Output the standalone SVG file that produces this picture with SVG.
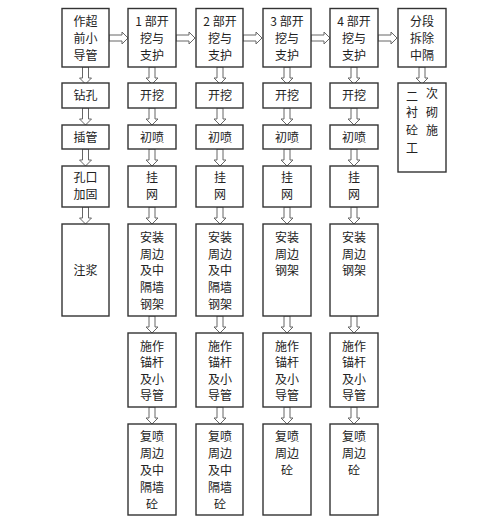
<svg xmlns="http://www.w3.org/2000/svg" width="503" height="518" viewBox="0 0 503 518">
<style>
.box{fill:#fff;stroke:#333;stroke-width:1.4}
.arr{fill:#fff;stroke:#666;stroke-width:1}
text{font-family:"Noto Sans CJK SC","Noto Sans CJK JP",sans-serif;font-size:12px;fill:#222;text-anchor:middle}
</style>
<defs>
<path id="va" class="arr" d="M-3,0 V11 H-6 L0,17 L6,11 H3 V0 Z"/>
<path id="ha" class="arr" d="M0,-3 H13 V-6 L19,0 L13,6 V3 H0 Z"/>
</defs>
<rect width="503" height="518" fill="#fff"/>
<g id="connectors">
<use href="#ha" x="109" y="38"/>
<use href="#ha" x="176" y="38"/>
<use href="#ha" x="243" y="38"/>
<use href="#ha" x="311" y="38"/>
<use href="#ha" x="378" y="38"/>
<use href="#va" x="85.5" y="67"/>
<use href="#va" x="85.5" y="108"/>
<use href="#va" x="85.5" y="149"/>
<use href="#va" x="85.5" y="207"/>
<use href="#va" x="152" y="67"/>
<use href="#va" x="152" y="108"/>
<use href="#va" x="152" y="149"/>
<use href="#va" x="152" y="207"/>
<use href="#va" x="152" y="316"/>
<use href="#va" x="152" y="407"/>
<use href="#va" x="220" y="67"/>
<use href="#va" x="220" y="108"/>
<use href="#va" x="220" y="149"/>
<use href="#va" x="220" y="207"/>
<use href="#va" x="220" y="316"/>
<use href="#va" x="220" y="407"/>
<use href="#va" x="287" y="67"/>
<use href="#va" x="287" y="108"/>
<use href="#va" x="287" y="149"/>
<use href="#va" x="287" y="207"/>
<use href="#va" x="287" y="316"/>
<use href="#va" x="287" y="407"/>
<use href="#va" x="354" y="67"/>
<use href="#va" x="354" y="108"/>
<use href="#va" x="354" y="149"/>
<use href="#va" x="354" y="207"/>
<use href="#va" x="354" y="316"/>
<use href="#va" x="354" y="407"/>
<use href="#va" x="422" y="67"/>
</g>
<g id="c1r1"><rect class="box" x="62" y="8.5" width="47" height="58.5"/><text x="85.5" y="26">作超</text><text x="85.5" y="43">前小</text><text x="85.5" y="60">导管</text></g>
<g id="c1r2"><rect class="box" x="62" y="83" width="47" height="25"/><text x="85.5" y="100">钻孔</text></g>
<g id="c1r3"><rect class="box" x="62" y="125" width="47" height="24"/><text x="85.5" y="142">插管</text></g>
<g id="c1r4"><rect class="box" x="62" y="166" width="47" height="41"/><text x="85.5" y="182">孔口</text><text x="85.5" y="199">加固</text></g>
<g id="c1r5"><rect class="box" x="62" y="224" width="47" height="92"/><text x="85.5" y="275">注浆</text></g>
<g id="c2r1"><rect class="box" x="128" y="8.5" width="48" height="58.5"/><text x="152" y="26">1 部开</text><text x="152" y="43">挖与</text><text x="152" y="60">支护</text></g>
<g id="c2r2"><rect class="box" x="128" y="83" width="48" height="25"/><text x="152" y="100">开挖</text></g>
<g id="c2r3"><rect class="box" x="128" y="125" width="48" height="24"/><text x="152" y="142">初喷</text></g>
<g id="c2r4"><rect class="box" x="128" y="166" width="48" height="41"/><text x="152" y="182">挂</text><text x="152" y="199">网</text></g>
<g id="c2r5"><rect class="box" x="128" y="224" width="48" height="92"/><text x="152" y="242">安装</text><text x="152" y="259">周边</text><text x="152" y="275">及中</text><text x="152" y="292">隔墙</text><text x="152" y="309">钢架</text></g>
<g id="c2r6"><rect class="box" x="128" y="333" width="48" height="74"/><text x="152" y="351">施作</text><text x="152" y="367">锚杆</text><text x="152" y="384">及小</text><text x="152" y="400">导管</text></g>
<g id="c2r7"><rect class="box" x="128" y="424" width="48" height="91"/><text x="152" y="441">复喷</text><text x="152" y="458">周边</text><text x="152" y="475">及中</text><text x="152" y="492">隔墙</text><text x="152" y="509">砼</text></g>
<g id="c3r1"><rect class="box" x="196" y="8.5" width="47" height="58.5"/><text x="220" y="26">2 部开</text><text x="220" y="43">挖与</text><text x="220" y="60">支护</text></g>
<g id="c3r2"><rect class="box" x="196" y="83" width="47" height="25"/><text x="220" y="100">开挖</text></g>
<g id="c3r3"><rect class="box" x="196" y="125" width="47" height="24"/><text x="220" y="142">初喷</text></g>
<g id="c3r4"><rect class="box" x="196" y="166" width="47" height="41"/><text x="220" y="182">挂</text><text x="220" y="199">网</text></g>
<g id="c3r5"><rect class="box" x="196" y="224" width="47" height="92"/><text x="220" y="242">安装</text><text x="220" y="259">周边</text><text x="220" y="275">及中</text><text x="220" y="292">隔墙</text><text x="220" y="309">钢架</text></g>
<g id="c3r6"><rect class="box" x="196" y="333" width="47" height="74"/><text x="220" y="351">施作</text><text x="220" y="367">锚杆</text><text x="220" y="384">及小</text><text x="220" y="400">导管</text></g>
<g id="c3r7"><rect class="box" x="196" y="424" width="47" height="91"/><text x="220" y="441">复喷</text><text x="220" y="458">周边</text><text x="220" y="475">及中</text><text x="220" y="492">隔墙</text><text x="220" y="509">砼</text></g>
<g id="c4r1"><rect class="box" x="263" y="8.5" width="48" height="58.5"/><text x="287" y="26">3 部开</text><text x="287" y="43">挖与</text><text x="287" y="60">支护</text></g>
<g id="c4r2"><rect class="box" x="263" y="83" width="48" height="25"/><text x="287" y="100">开挖</text></g>
<g id="c4r3"><rect class="box" x="263" y="125" width="48" height="24"/><text x="287" y="142">初喷</text></g>
<g id="c4r4"><rect class="box" x="263" y="166" width="48" height="41"/><text x="287" y="182">挂</text><text x="287" y="199">网</text></g>
<g id="c4r5"><rect class="box" x="263" y="224" width="48" height="92"/><text x="287" y="242">安装</text><text x="287" y="259">周边</text><text x="287" y="275">钢架</text></g>
<g id="c4r6"><rect class="box" x="263" y="333" width="48" height="74"/><text x="287" y="351">施作</text><text x="287" y="367">锚杆</text><text x="287" y="384">及小</text><text x="287" y="400">导管</text></g>
<g id="c4r7"><rect class="box" x="263" y="424" width="48" height="91"/><text x="287" y="441">复喷</text><text x="287" y="458">周边</text><text x="287" y="475">砼</text></g>
<g id="c5r1"><rect class="box" x="330" y="8.5" width="48" height="58.5"/><text x="354" y="26">4 部开</text><text x="354" y="43">挖与</text><text x="354" y="60">支护</text></g>
<g id="c5r2"><rect class="box" x="330" y="83" width="48" height="25"/><text x="354" y="100">开挖</text></g>
<g id="c5r3"><rect class="box" x="330" y="125" width="48" height="24"/><text x="354" y="142">初喷</text></g>
<g id="c5r4"><rect class="box" x="330" y="166" width="48" height="41"/><text x="354" y="182">挂</text><text x="354" y="199">网</text></g>
<g id="c5r5"><rect class="box" x="330" y="224" width="48" height="92"/><text x="354" y="242">安装</text><text x="354" y="259">周边</text><text x="354" y="275">钢架</text></g>
<g id="c5r6"><rect class="box" x="330" y="333" width="48" height="74"/><text x="354" y="351">施作</text><text x="354" y="367">锚杆</text><text x="354" y="384">及小</text><text x="354" y="400">导管</text></g>
<g id="c5r7"><rect class="box" x="330" y="424" width="48" height="91"/><text x="354" y="441">复喷</text><text x="354" y="458">周边</text><text x="354" y="475">砼</text></g>
<g id="c6r1"><rect class="box" x="398" y="8.5" width="48" height="58.5"/><text x="422" y="26">分段</text><text x="422" y="43">拆除</text><text x="422" y="60">中隔</text></g>
<g id="c6r2"><rect class="box" x="398" y="83" width="48" height="89"/><text x="412" y="101">二</text><text x="432" y="98">次</text><text x="412" y="117">衬</text><text x="432" y="117">砌</text><text x="412" y="135">砼</text><text x="432" y="135">施</text><text x="412" y="153">工</text></g>
</svg>
